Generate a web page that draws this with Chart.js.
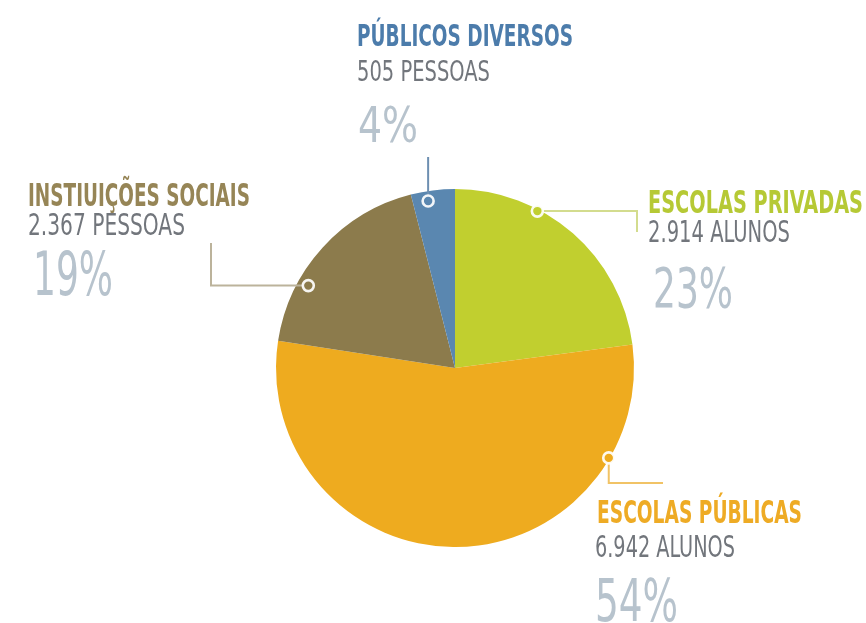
<!DOCTYPE html>
<html>
<head>
<meta charset="utf-8">
<script src="https://cdn.jsdelivr.net/npm/chart.js@4"></script>
<style>
  html, body { margin: 0; padding: 0; background: #ffffff; }
  #wrap { width: 866px; height: 623px; }
</style>
</head>
<body>
<div id="wrap"><canvas id="c" width="866" height="623"></canvas></div>
<script>
// ---- data ----
const categories = ['ESCOLAS PRIVADAS', 'ESCOLAS PÚBLICAS', 'INSTIUIÇÕES SOCIAIS', 'PÚBLICOS DIVERSOS'];
const counts = [2914, 6942, 2367, 505];
const countLabels = ['2.914 ALUNOS', '6.942 ALUNOS', '2.367 PESSOAS', '505 PESSOAS'];
const percentLabels = ['23%', '54%', '19%', '4%'];

// ---- styles ----
const sliceColors = ['#c1cf2f', '#eeab1f', '#8c7b4c', '#5a87b0'];
const titleColors = ['#b6c935', '#eeab25', '#968556', '#4c7cab'];
const lineColors  = ['#d3dc8e', '#f1c366', '#bcb39b', '#6d8fb1'];
const subColor = '#72767c';
const pctColor = '#b7c3cd';

// layout of annotations: [x, baseline, capHeight, width]
const labelLayout = [
  { title: [648, 213, 23, 215], sub: [648, 242, 22, 142], pct: [653, 307, 40, 80],
    mark: [0.336, 0.99], path: [[637, null], [637, 232]] },
  { title: [597, 523, 23, 205], sub: [595, 557, 22, 140], pct: [595, 621, 42, 83],
    mark: [0.193, 0.995], path: [[null, 483], [663, 483]] },
  { title: [28, 206, 23, 222], sub: [28, 235, 22, 157], pct: [33, 295, 43, 80],
    mark: [0.307, 0.94], path: [[211, null], [211, 243]] },
  { title: [357, 46, 21, 216], sub: [357, 81, 20, 133], pct: [358, 142, 35, 60],
    mark: [0.36, 0.945], path: [[null, 157]] }
];

const FONT = '"Liberation Sans Narrow", "DejaVu Sans Condensed", "Roboto Condensed", sans-serif';

function drawFit(ctx, text, spec, weight, color) {
  const [x, base, cap, width] = spec;
  const size = cap / 0.716;
  ctx.save();
  ctx.font = `${weight} ${size}px ${FONT}`;
  ctx.fillStyle = color;
  ctx.textBaseline = 'alphabetic';
  ctx.textAlign = 'left';
  const w = ctx.measureText(text).width;
  ctx.translate(x, base);
  ctx.scale(width / w, 1);
  ctx.fillText(text, 0, 0);
  ctx.restore();
}

const annotations = {
  id: 'annotations',
  afterDatasetsDraw(chart) {
    const ctx = chart.ctx;
    const meta = chart.getDatasetMeta(0);
    meta.data.forEach((arc, i) => {
      const L = labelLayout[i];
      const p = arc.getProps(['x', 'y', 'startAngle', 'endAngle', 'outerRadius'], true);
      const ang = p.startAngle + L.mark[0] * (p.endAngle - p.startAngle);
      const r = p.outerRadius * L.mark[1];
      const mx = p.x + Math.cos(ang) * r;
      const my = p.y + Math.sin(ang) * r;

      // leader line
      ctx.save();
      ctx.strokeStyle = lineColors[i];
      ctx.lineWidth = 2;
      ctx.beginPath();
      ctx.moveTo(mx, my);
      let cx = mx, cy = my;
      L.path.forEach(pt => {
        cx = pt[0] === null ? cx : pt[0];
        cy = pt[1] === null ? cy : pt[1];
        ctx.lineTo(cx, cy);
      });
      ctx.stroke();
      ctx.restore();

      // marker ring
      ctx.save();
      ctx.beginPath();
      ctx.arc(mx, my, 5.5, 0, Math.PI * 2);
      ctx.fillStyle = sliceColors[i];
      ctx.fill();
      ctx.lineWidth = 2.6;
      ctx.strokeStyle = 'rgba(255,255,255,0.92)';
      ctx.stroke();
      ctx.restore();

      // texts
      drawFit(ctx, categories[i], L.title, 'bold', titleColors[i]);
      drawFit(ctx, countLabels[i], L.sub, 'normal', subColor);
      drawFit(ctx, percentLabels[i], L.pct, 'normal', pctColor);
    });
  }
};

new Chart(document.getElementById('c'), {
  type: 'pie',
  data: {
    labels: categories,
    datasets: [{
      data: counts,
      backgroundColor: sliceColors,
      borderWidth: 0
    }]
  },
  options: {
    responsive: false,
    animation: false,
    layout: { padding: { left: 276, right: 232, top: 189, bottom: 76 } },
    plugins: {
      legend: { display: false },
      tooltip: { enabled: false }
    }
  },
  plugins: [annotations]
});
</script>
</body>
</html>
